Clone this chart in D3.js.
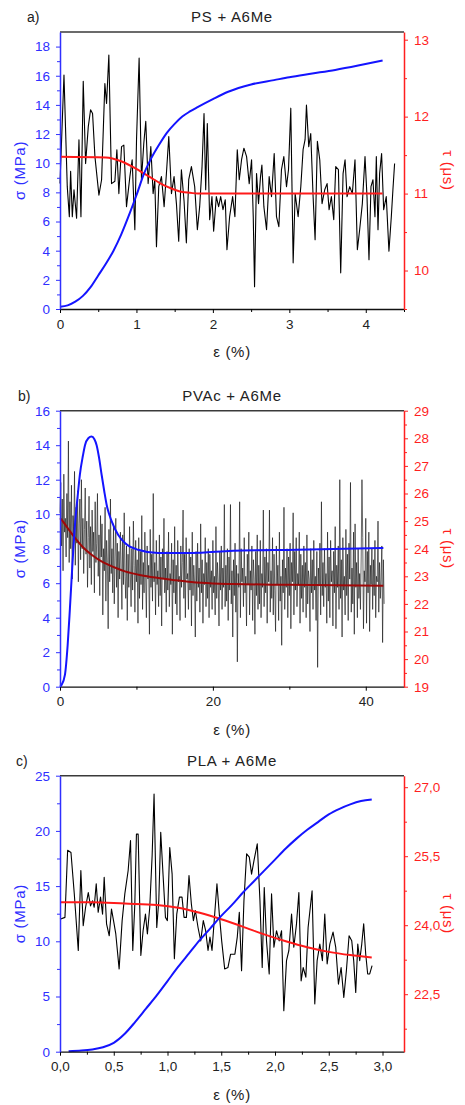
<!DOCTYPE html>
<html>
<head>
<meta charset="utf-8">
<script src="https://cdn.jsdelivr.net/npm/d3@7"></script>
<style>
body { margin: 0; background: #fff; }
text { font-family: "Liberation Sans", Arial, sans-serif; }
</style>
</head>
<body>
<svg id="chart" width="465" height="1105"></svg>
<script>
// ---- panel a : PS + A6Me ----
var epsA_sigma = [0, 0.1, 0.2, 0.3, 0.4, 0.5, 0.6, 0.7, 0.8, 0.9, 1.0, 1.1, 1.2, 1.3, 1.4, 1.5, 1.6, 1.7, 1.8, 2.0, 2.2, 2.5, 2.8, 3.0, 3.3, 3.6, 3.9, 4.22]
var sigmaA = [0.15, 0.25, 0.5, 0.9, 1.5, 2.3, 3.1, 4.0, 5.1, 6.4, 7.8, 9.3, 10.4, 11.3, 12.1, 12.7, 13.2, 13.55, 13.85, 14.4, 14.9, 15.4, 15.7, 15.9, 16.15, 16.4, 16.7, 17.05]
var epsA_fit = [0, 0.6, 0.8, 1.0, 1.1, 1.2, 1.3, 1.4, 1.5, 1.6, 1.7, 1.8, 4.22]
var tauA_fit = [11.48, 11.47, 11.42, 11.32, 11.26, 11.2, 11.14, 11.09, 11.05, 11.02, 11.01, 11.0, 11.0]
var epsA_raw = [0,0.052,0.095,0.122,0.139,0.161,0.183,0.217,0.248,0.274,0.304,0.335,0.370,0.400,0.426,0.457,0.509,0.544,0.587,0.609,
  0.639,0.674,0.718,0.744,0.770,0.805,0.835,0.870,0.914,0.944,0.979,1.001,1.035,1.066,1.096,1.122,1.153,1.188,1.218,1.240,
  1.262,1.292,1.327,1.362,1.392,1.423,1.458,1.492,1.523,1.553,1.588,1.623,1.653,1.684,1.719,1.762,1.797,1.827,1.858,1.884,
  1.906,1.927,1.958,1.988,2.010,2.045,2.075,2.102,2.132,2.162,2.184,2.219,
  2.258,2.288,2.319,2.345,2.375,2.406,2.441,2.475,2.506,2.528,2.545,2.571,2.597,2.623,2.641,2.667,2.702,2.736,2.767,2.802,
  2.832,2.863,2.897,2.928,2.963,2.989,3.019,3.050,3.076,3.115,3.150,3.180,3.206,3.224,3.254,3.280,3.311,3.337,3.367,3.398,
  3.428,3.463,3.494,3.520,3.550,3.581,3.607,3.642,3.672,3.703,3.729,3.755,3.790,3.824,3.859,3.890,3.920,3.955,3.990,4.016,
  4.042,4.068,4.094,4.120,4.138,4.160,4.181,4.207,4.234,4.268,4.303,4.334,4.355,4.377]
var tauA_raw = [11.13,12.54,11.09,10.70,11.29,10.70,11.05,10.68,11.70,10.70,12.46,11.39,11.87,12.09,12.04,11.48,10.98,11.18,12.43,12.17,
  12.80,11.13,11.16,11.57,11.00,11.61,11.63,10.83,11.22,11.44,10.53,11.70,12.76,11.18,11.65,11.94,11.13,11.61,11.00,11.18,
  10.31,11.09,11.22,10.83,11.26,11.74,11.00,11.22,10.87,10.38,11.31,10.90,10.36,11.18,11.35,11.09,10.53,10.83,11.35,12.04,
  11.05,11.91,10.66,10.96,10.51,10.96,10.83,10.96,10.79,10.92,10.27,10.70,
  10.96,10.70,11.57,11.18,11.44,11.59,11.48,11.13,11.44,10.70,9.79,11.26,10.87,11.22,11.37,10.83,10.53,11.22,10.96,11.52,
  10.70,10.57,11.31,11.48,11.09,11.31,12.11,10.10,11.00,10.70,11.09,11.57,11.70,12.15,11.61,11.78,10.96,10.40,11.68,11.44,
  10.87,11.05,11.13,10.79,10.96,10.66,11.35,11.31,9.97,11.26,11.44,10.96,11.09,11.00,11.44,10.27,10.53,10.87,11.48,10.96,
  10.14,11.09,11.18,10.70,11.48,10.53,11.26,11.52,10.79,10.96,10.25,10.70,11.05,11.39]

// ---- panel b : PVAc + A6Me ----
var epsB_sigma = [0, 0.2, 0.65, 1.0, 1.3, 1.6, 1.96, 2.3, 2.6, 3.0, 3.27, 3.7, 4.13, 4.5, 4.79, 5.1, 5.44, 5.8, 6.1, 6.75, 7.62, 8.5, 10.2, 12.85, 17.2, 22.65, 31, 42.3]
var sigmaB = [0, 0.1, 0.7, 2.4, 4.56, 6.9, 9.4, 11.0, 12.3, 13.4, 14.0, 14.4, 14.5, 14.35, 14.0, 13.3, 12.3, 11.3, 10.55, 9.6, 8.8, 8.33, 7.94, 7.75, 7.75, 7.88, 7.94, 8.04]
var epsB_fit = [0, 0.2, 1.0, 1.96, 3.0, 4.13, 5.2, 6.3, 7.4, 8.5, 10.6, 12.85, 15, 17.2, 20, 22.65, 30, 42.3]
var tauB_fit = [25.1, 25.05, 24.75, 24.39, 24.05, 23.78, 23.58, 23.42, 23.29, 23.18, 23.04, 22.94, 22.86, 22.79, 22.74, 22.72, 22.69, 22.66]
var epsB_step = 0.1   // raw signal sampled every 0.1 % strain
var tauB_raw = [
  25.3, 26.4, 24.1, 25.8, 23.2, 26.7, 24.6, 25.1, 23.7, 26.0,
  24.4, 27.9, 23.5, 25.7, 24.0, 26.3, 22.9, 25.2, 24.5, 26.8,
  23.4, 25.5, 24.2, 26.1, 22.8, 24.9, 25.8, 23.6, 26.5, 24.0,
  25.1, 23.1, 24.7, 26.2, 23.8, 25.0, 22.6, 24.4, 25.9, 23.3,
  24.8, 22.7, 25.4, 23.9, 24.6, 22.4, 25.7, 23.5, 24.2, 26.0,
  23.0, 24.5, 22.3, 25.2, 23.7, 24.9, 21.6, 24.0, 23.2, 25.5,
  22.1, 24.3, 23.5, 21.1, 24.7, 22.8, 25.8, 23.1, 24.0, 22.4,
  24.9, 22.0, 23.7, 25.1, 22.6, 24.2, 21.5, 23.9, 22.9, 24.6,
  23.3, 21.8, 24.5, 22.7, 25.3, 23.0, 22.2, 24.1, 21.4, 23.8,
  22.6, 24.8, 23.1, 21.9, 24.0, 22.5, 25.0, 23.4, 21.7, 24.3,
  22.8, 23.6, 21.3, 24.4, 22.2, 23.9, 22.7, 25.2, 21.8, 23.5,
  22.4, 24.6, 23.0, 21.5, 24.1, 22.9, 23.4, 20.9, 24.7, 22.6,
  23.8, 22.1, 26.0, 22.8, 23.5, 21.6, 24.3, 22.7, 23.2, 21.9,
  24.5, 22.3, 23.7, 21.2, 24.0, 22.9, 25.1, 22.4, 23.3, 21.7,
  23.9, 22.5, 24.6, 21.9, 23.1, 22.7, 24.2, 20.9, 23.6, 22.4,
  24.8, 22.0, 23.4, 21.6, 24.3, 22.8, 23.0, 21.4, 24.1, 22.6,
  23.5, 25.4, 22.2, 23.8, 21.5, 24.4, 22.9, 23.1, 21.8, 24.0,
  22.5, 23.7, 21.2, 24.6, 22.3, 23.4, 22.8, 20.8, 23.9, 22.1,
  24.2, 22.6, 23.3, 21.7, 24.9, 22.4, 23.6, 21.3, 23.1, 22.7,
  24.4, 21.9, 23.5, 22.2, 24.0, 21.5, 23.8, 22.6, 23.2, 21.8,
  24.3, 22.4, 23.0, 21.6, 24.8, 22.2, 23.5, 22.8, 21.2, 23.9,
  22.5, 24.1, 21.8, 23.3, 22.6, 25.6, 21.9, 23.4, 22.1, 24.0,
  21.4, 23.7, 22.5, 25.6, 22.0, 23.2, 20.8, 23.6, 22.3, 24.2,
  21.7, 23.4, 19.9, 23.1, 22.6, 25.7, 21.5, 24.0, 22.8, 23.3,
  21.9, 24.4, 22.4, 23.0, 21.2, 23.8, 22.7, 24.6, 21.6, 23.2,
  22.5, 24.1, 21.4, 23.6, 22.9, 20.9, 23.9, 22.3, 24.5, 21.8,
  23.4, 22.0, 24.3, 21.5, 23.1, 22.6, 25.4, 21.9, 23.7, 22.4,
  24.0, 21.3, 23.5, 22.8, 25.4, 21.7, 23.2, 22.2, 24.4, 21.6,
  23.8, 22.5, 21.0, 24.1, 22.7, 23.4, 21.4, 24.6, 22.1, 23.0,
  20.5, 23.6, 22.4, 25.5, 21.8, 23.3, 22.6, 24.0, 21.5, 23.7,
  22.3, 24.2, 21.1, 23.5, 22.8, 25.3, 21.6, 23.9, 22.5, 24.4,
  21.9, 23.1, 22.7, 24.6, 21.3, 23.8, 22.2, 23.4, 21.7, 24.1,
  22.6, 23.5, 21.5, 24.5, 22.0, 23.2, 22.9, 21.0, 24.0, 22.4,
  23.6, 21.8, 24.3, 22.5, 23.0, 21.4, 23.9, 19.7, 23.3, 22.7,
  24.2, 21.6, 25.7, 22.3, 23.5, 21.9, 24.0, 22.6, 23.1, 21.3,
  24.6, 22.1, 23.7, 21.5, 24.3, 22.8, 23.2, 21.2, 23.9, 22.4,
  24.8, 21.1, 23.4, 22.6, 24.1, 21.8, 26.5, 22.2, 23.6, 20.8,
  24.4, 22.5, 23.0, 21.6, 24.7, 22.3, 23.8, 21.4, 24.2, 22.9,
  26.4, 21.7, 23.3, 22.0, 24.6, 20.9, 24.9, 22.6, 23.5, 21.5,
  24.0, 22.2, 23.1, 21.8, 23.7, 26.5, 24.4, 21.1, 23.2, 22.8,
  25.1, 21.3, 23.9, 22.4, 24.6, 21.0, 23.4, 22.7, 24.0, 21.8,
  23.6, 22.3, 24.3, 21.5, 23.0, 22.8, 25.0, 21.7, 23.5, 22.2,
  22.9, 24.1, 20.6, 23.6, 22.0]

// ---- panel c : PLA + A6Me ----
var epsC_sigma = [0.08, 0.2, 0.3, 0.4, 0.5, 0.6, 0.7, 0.8, 0.9, 1.0, 1.1, 1.2, 1.3, 1.4, 1.5, 1.6, 1.7, 1.8, 1.9, 2.0, 2.1, 2.2, 2.3, 2.4, 2.5, 2.6, 2.7, 2.8, 2.9]
var sigmaC = [0.05, 0.1, 0.2, 0.4, 0.8, 1.6, 2.7, 3.9, 5.1, 6.4, 7.7, 8.9, 10.1, 11.2, 12.3, 13.3, 14.4, 15.4, 16.4, 17.4, 18.4, 19.3, 20.1, 20.8, 21.5, 22.0, 22.4, 22.7, 22.85]
var epsC_fit = [0, 0.3, 0.6, 0.9, 1.1, 1.3, 1.5, 1.7, 1.9, 2.1, 2.3, 2.5, 2.7, 2.9]
var tauC_fit = [24.5, 24.5, 24.47, 24.44, 24.38, 24.27, 24.13, 23.97, 23.8, 23.65, 23.52, 23.42, 23.35, 23.3]
var epsC_raw = [0,0.046,0.071,0.102,0.133,0.170,0.194,0.216,0.238,0.263,0.284,0.303,0.318,0.337,0.355,0.377,0.396,0.411,0.433,0.458,
  0.479,0.498,0.519,0.550,0.578,0.603,0.634,0.656,0.677,0.696,0.711,0.727,0.752,0.773,0.795,0.813,0.835,0.857,0.875,0.900,
  0.919,0.937,0.959,0.981,0.999,1.021,1.043,1.064,1.086,1.111,1.135,1.154,1.176,1.200,1.222,1.241,1.259,1.284,1.309,1.333,
  1.355,1.377,1.395,1.414,1.439,1.460,1.482,1.504,1.532,1.562,1.587,
  1.627,1.649,1.668,1.689,1.711,1.736,1.761,1.782,1.804,1.835,1.860,1.881,1.900,1.921,1.946,1.968,1.990,2.014,2.039,2.061,
  2.082,2.107,2.129,2.154,2.175,2.200,2.222,2.243,2.262,2.287,2.308,2.345,2.370,2.392,2.417,2.441,2.463,2.485,2.510,2.540,
  2.565,2.590,2.615,2.640,2.664,2.689,2.714,2.732,2.751,2.770,2.788,2.807,2.825,2.844,2.862,2.881,2.903]
var tauC_raw = [24.13,24.17,25.63,25.58,24.68,23.45,25.19,23.99,24.39,24.71,24.42,24.53,24.39,24.90,24.28,24.61,24.24,25.04,24.03,23.77,
  24.35,24.10,23.81,23.05,24.10,24.68,25.19,25.84,23.45,24.46,25.98,25.98,23.34,23.88,24.24,23.81,24.39,25.51,26.85,23.95,
  24.53,26.02,25.08,24.17,24.10,25.69,25.11,23.27,24.24,24.61,24.61,24.17,24.17,25.08,24.46,24.10,24.32,23.95,23.66,24.10,
  23.88,23.45,23.74,23.45,24.24,24.90,24.24,23.66,23.05,23.08,23.37,
  23.37,23.74,24.28,23.01,24.53,25.55,25.48,25.11,25.40,25.77,24.53,23.08,24.82,23.66,22.94,24.68,23.52,23.88,23.66,23.88,
  22.14,23.23,23.45,24.24,23.52,24.03,24.71,22.79,23.08,22.87,23.95,24.75,22.29,23.23,23.59,23.23,24.24,23.16,23.59,23.85,
  23.52,22.72,23.08,22.43,23.01,23.77,23.66,23.23,22.54,23.59,23.23,23.59,24.03,23.37,22.94,22.94,23.12]

var svg = d3.select('#chart')
var plotLeft = 60, plotRight = 404
var blueLine = '#1414ff', blueAxis = '#2f2fff', redLine = '#ff1a1a', redAxis = '#ff1f1f'
var commaFmt = d3.formatLocale({ decimal: ',', thousands: '.', grouping: [3], currency: ['', ''] })

function drawPanel(p) {
    var g = svg.append('g')
    var x = d3.scaleLinear().domain(p.xDomain).range([plotLeft, plotRight])
    var yL = d3.scaleLinear().domain(p.leftDomain).range([p.bottom, p.top])
    var yR = d3.scaleLinear().domain(p.rightDomain).range([p.bottom, p.top])

    // frame top
    g.append('line')
        .attr('x1', plotLeft).attr('x2', plotRight)
        .attr('y1', p.top).attr('y2', p.top)
        .attr('stroke', '#3a3a3a').attr('stroke-width', 1.5)

    var lineR = d3.line().x(d => x(d[0])).y(d => yR(d[1]))
    var lineL = d3.line().x(d => x(d[0])).y(d => yL(d[1]))

    g.append('path')
        .datum(d3.zip(p.rawEps, p.rawTau))
        .attr('d', lineR)
        .attr('fill', 'none')
        .attr('stroke', p.rawColor)
        .attr('stroke-opacity', p.rawOpacity)
        .attr('stroke-width', p.rawWidth)
        .attr('stroke-linejoin', 'round')
    g.append('path')
        .datum(d3.zip(p.fitEps, p.fitTau))
        .attr('d', lineR.curve(d3.curveMonotoneX))
        .attr('fill', 'none')
        .attr('stroke', p.fitColor)
        .attr('stroke-width', 2)
    g.append('path')
        .datum(d3.zip(p.sigEps, p.sig))
        .attr('d', lineL.curve(d3.curveMonotoneX))
        .attr('fill', 'none')
        .attr('stroke', blueLine)
        .attr('stroke-width', 2)

    // bottom axis
    var gx = g.append('g').attr('transform', `translate(0,${p.bottom})`)
        .call(d3.axisBottom(x).tickValues(p.xTicks).tickSize(4).tickSizeOuter(0).tickPadding(6).tickFormat(p.xFmt))
    gx.select('.domain').attr('stroke', '#111').attr('stroke-width', 1.3)
    gx.selectAll('text').attr('font-size', '13.5px').attr('fill', '#222')
    var gxm = g.append('g').attr('transform', `translate(0,${p.bottom})`)
        .call(d3.axisBottom(x).tickValues(p.xMinor).tickSize(3).tickFormat(''))
    gxm.select('.domain').remove()

    // left axis
    var gl = g.append('g').attr('transform', `translate(${plotLeft},0)`)
        .call(d3.axisLeft(yL).tickValues(p.leftTicks).tickSize(4).tickSizeOuter(0).tickPadding(6).tickFormat(d3.format('d')))
    gl.select('.domain').attr('stroke', blueAxis).attr('stroke-width', 1.5)
    gl.selectAll('.tick line').attr('stroke', blueAxis)
    gl.selectAll('text').attr('font-size', '13.5px').attr('fill', blueAxis)
    var glm = g.append('g').attr('transform', `translate(${plotLeft},0)`)
        .call(d3.axisLeft(yL).tickValues(p.leftMinor).tickSize(3).tickFormat(''))
    glm.select('.domain').remove()
    glm.selectAll('line').attr('stroke', blueAxis)

    // right axis
    var gr = g.append('g').attr('transform', `translate(${plotRight},0)`)
        .call(d3.axisRight(yR).tickValues(p.rightTicks).tickSize(4).tickSizeOuter(0).tickPadding(6).tickFormat(p.rightFmt))
    gr.select('.domain').attr('stroke', redAxis).attr('stroke-width', 1.5)
    gr.selectAll('.tick line').attr('stroke', redAxis)
    gr.selectAll('text').attr('font-size', '13.5px').attr('fill', redAxis)
    var grm = g.append('g').attr('transform', `translate(${plotRight},0)`)
        .call(d3.axisRight(yR).tickValues(p.rightMinor).tickSize(3).tickFormat(''))
    grm.select('.domain').remove()
    grm.selectAll('line').attr('stroke', redAxis)

    // texts
    g.append('text').attr('x', 232).attr('y', p.top - 10).attr('text-anchor', 'middle')
        .attr('font-size', '15px').attr('letter-spacing', '0.7px').attr('fill', '#222').text(p.title)
    g.append('text').attr('x', p.tagX).attr('y', p.top - 10)
        .attr('font-size', '14px').attr('fill', '#222').text(p.tag)
    g.append('text').attr('x', 232).attr('y', p.bottom + 48).attr('text-anchor', 'middle')
        .attr('font-size', '15px').attr('letter-spacing', '0.7px').attr('fill', '#222').text('ε (%)')
    var midY = (p.top + p.bottom) / 2
    g.append('text').attr('transform', `translate(25,${midY}) rotate(-90)`).attr('text-anchor', 'middle')
        .attr('font-size', '15px').attr('letter-spacing', '0.7px').attr('fill', blueAxis).text('σ (MPa)')
    g.append('text').attr('transform', `translate(443,${midY}) rotate(90)`).attr('text-anchor', 'middle')
        .attr('font-size', '15px').attr('letter-spacing', '0.7px').attr('fill', redAxis).text('τ (μs)')
}

drawPanel({
    top: 32, bottom: 309, title: 'PS + A6Me', tag: 'a)', tagX: 27,
    xDomain: [0, 4.5], xTicks: [0, 1, 2, 3, 4], xMinor: [0.5, 1.5, 2.5, 3.5, 4.5], xFmt: d3.format('d'),
    leftDomain: [0, 19], leftTicks: d3.range(0, 19, 2), leftMinor: d3.range(1, 19, 2),
    rightDomain: [9.5, 13.1], rightTicks: [10, 11, 12, 13], rightMinor: [9.5, 10.5, 11.5, 12.5], rightFmt: d3.format('d'),
    rawEps: epsA_raw, rawTau: tauA_raw, rawColor: '#000', rawOpacity: 1, rawWidth: 1.1,
    fitEps: epsA_fit, fitTau: tauA_fit, fitColor: redLine,
    sigEps: epsA_sigma, sig: sigmaA
})

drawPanel({
    top: 410.7, bottom: 686.7, title: 'PVAc + A6Me', tag: 'b)', tagX: 18,
    xDomain: [0, 45], xTicks: [0, 20, 40], xMinor: [10, 30], xFmt: d3.format('d'),
    leftDomain: [0, 16], leftTicks: d3.range(0, 17, 2), leftMinor: d3.range(1, 16, 2),
    rightDomain: [19, 29], rightTicks: d3.range(19, 30, 1), rightMinor: d3.range(19.5, 29, 1), rightFmt: d3.format('d'),
    rawEps: tauB_raw.map((d, i) => i * epsB_step), rawTau: tauB_raw, rawColor: '#111', rawOpacity: 0.7, rawWidth: 0.9,
    fitEps: epsB_fit, fitTau: tauB_fit, fitColor: '#a00808',
    sigEps: epsB_sigma, sig: sigmaB
})

drawPanel({
    top: 775.7, bottom: 1051.7, title: 'PLA + A6Me', tag: 'c)', tagX: 16,
    xDomain: [0, 3.2], xTicks: [0, 0.5, 1, 1.5, 2, 2.5, 3], xMinor: [0.25, 0.75, 1.25, 1.75, 2.25, 2.75], xFmt: commaFmt.format('.1f'),
    leftDomain: [0, 25], leftTicks: [0, 5, 10, 15, 20, 25], leftMinor: [2.5, 7.5, 12.5, 17.5, 22.5],
    rightDomain: [21.25, 27.25], rightTicks: [22.5, 24, 25.5, 27], rightMinor: [21.75, 23.25, 24.75, 26.25], rightFmt: commaFmt.format('.1f'),
    rawEps: epsC_raw, rawTau: tauC_raw, rawColor: '#000', rawOpacity: 1, rawWidth: 1.1,
    fitEps: epsC_fit, fitTau: tauC_fit, fitColor: redLine,
    sigEps: epsC_sigma, sig: sigmaC
})
</script>
</body>
</html>
